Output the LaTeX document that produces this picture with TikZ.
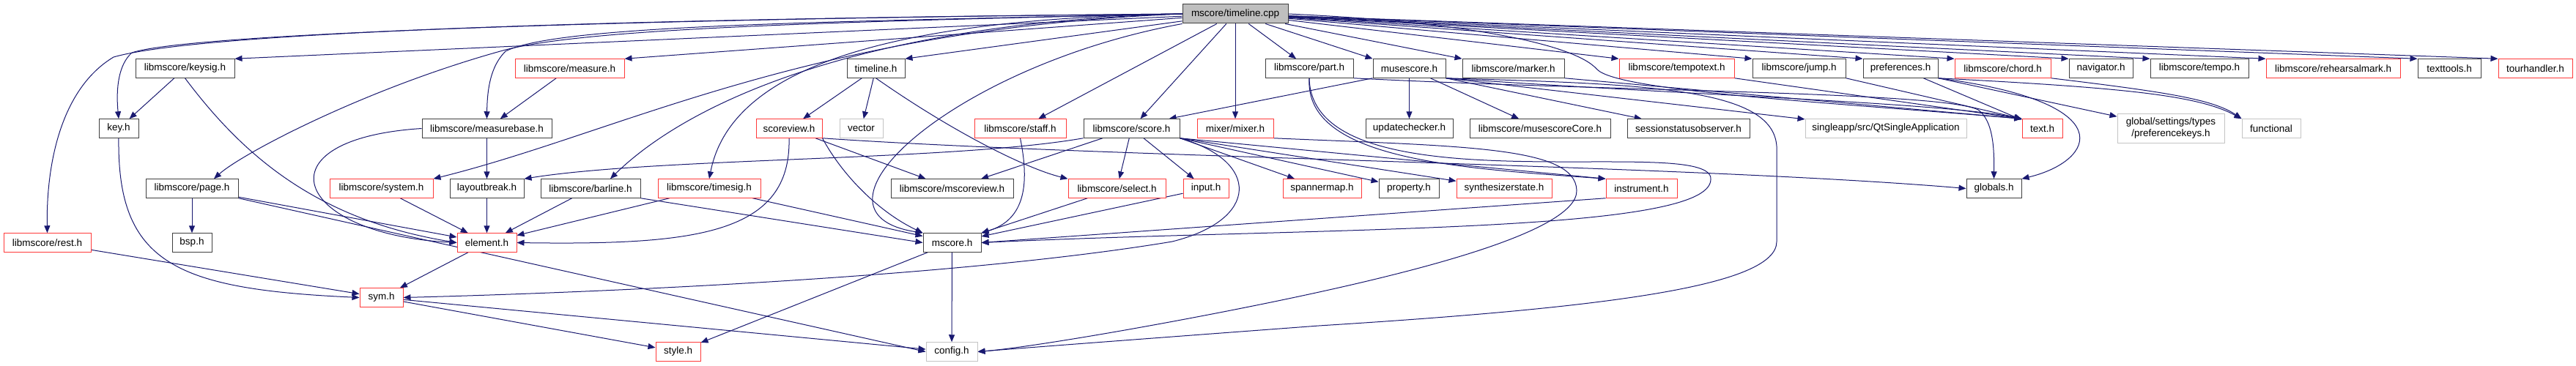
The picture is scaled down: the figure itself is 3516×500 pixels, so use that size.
\documentclass[tikz,border=0pt]{standalone}
\usepackage{fontspec}
\setmainfont{Liberation Sans}
\usepackage{tikz}
\usetikzlibrary{arrows.meta, backgrounds}

\definecolor{edgeblue}{HTML}{191970}
\definecolor{boxdark}{HTML}{404040}
\definecolor{boxred}{HTML}{FF3A3A}
\definecolor{boxlight}{HTML}{C4C4C4}
\definecolor{rootfill}{HTML}{BFBFBF}

\begin{document}
\begin{tikzpicture}[
        x=1pt, y=-1pt,
        box/.style={rectangle, draw=boxdark, fill=white, line width=1pt, minimum height=25.5pt, inner sep=0pt, align=center, font=\fontsize{13.5}{16}\selectfont},
        redbox/.style={box, draw=boxred},
        extbox/.style={box, draw=boxlight},
        rootbox/.style={box, fill=rootfill},
        arrow/.style={draw=edgeblue, line width=1pt, -{Triangle[length=10pt,width=8pt]}}
        ]

        \useasboundingbox (0,0) rectangle (3516,500);

        % Nodes
        \node (root) [rootbox, minimum width=144pt, minimum height=26pt] at (1686,19) {mscore/timeline.cpp};

        \node (keysig) [box, minimum width=135pt] at (252.5,93.5) {libmscore/keysig.h};
        \node (measure) [redbox, minimum width=149pt] at (777.5,93.5) {libmscore/measure.h};
        \node (timeline) [box, minimum width=79pt] at (1195.5,93.5) {timeline.h};
        \node (part) [box, minimum width=120pt] at (1787,93.5) {libmscore/part.h};
        \node (musescore) [box, minimum width=99pt] at (1923.5,93.5) {musescore.h};
        \node (marker) [box, minimum width=139pt] at (2065.5,93.5) {libmscore/marker.h};
        \node (tempotext) [redbox, minimum width=157pt] at (2288.5,93.5) {libmscore/tempotext.h};
        \node (jump) [box, minimum width=127pt] at (2455.5,93.5) {libmscore/jump.h};
        \node (preferences) [box, minimum width=102pt] at (2594,93.5) {preferences.h};
        \node (chord) [redbox, minimum width=131pt] at (2733.5,93.5) {libmscore/chord.h};
        \node (navigator) [box, minimum width=87pt] at (2867.5,93.5) {navigator.h};
        \node (tempo) [box, minimum width=134pt] at (3002,93.5) {libmscore/tempo.h};
        \node (rehearsalmark) [redbox, minimum width=183pt] at (3184.5,93.5) {libmscore/rehearsalmark.h};
        \node (texttools) [box, minimum width=86pt] at (3343,93.5) {texttools.h};
        \node (tourhandler) [redbox, minimum width=101pt] at (3460.5,93.5) {tourhandler.h};

        \node (key) [box, minimum width=54pt] at (162,175.5) {key.h};
        \node (measurebase) [box, minimum width=177pt] at (664.5,175.5) {libmscore/measurebase.h};
        \node (scoreview) [redbox, minimum width=90pt] at (1077,175.5) {scoreview.h};
        \node (vector) [extbox, minimum width=59pt] at (1175.5,175.5) {vector};
        \node (staff) [redbox, minimum width=125pt] at (1392.5,175.5) {libmscore/staff.h};
        \node (score) [box, minimum width=131pt] at (1544.5,175.5) {libmscore/score.h};
        \node (mixer) [redbox, minimum width=104pt] at (1686,175.5) {mixer/mixer.h};
        \node (updatechecker) [box, minimum width=119pt] at (1923.5,175.5) {updatechecker.h};
        \node (musescorecore) [box, minimum width=192pt] at (2102,175.5) {libmscore/musescoreCore.h};
        \node (sessionobs) [box, minimum width=167pt] at (2304.5,175.5) {sessionstatusobserver.h};
        \node (singleapp) [extbox, minimum width=220pt] at (2574,175.5) {singleapp/src/QtSingleApplication};
        \node (texth) [redbox, minimum width=55pt] at (2787.5,175.5) {text.h};
        \node (prefkeys) [extbox, minimum width=146pt, minimum height=40pt] at (2963,175) {global/settings/types\\/preferencekeys.h};
        \node (functional) [extbox, minimum width=80pt] at (3100,175.5) {functional};

        \node (page) [box, minimum width=126pt] at (262,257.5) {libmscore/page.h};
        \node (system) [redbox, minimum width=141pt] at (520.5,257.5) {libmscore/system.h};
        \node (layoutbreak) [box, minimum width=101pt] at (664.5,257.5) {layoutbreak.h};
        \node (barline) [box, minimum width=136pt] at (806,257.5) {libmscore/barline.h};
        \node (timesig) [redbox, minimum width=140pt] at (968,257.5) {libmscore/timesig.h};
        \node (mscoreview) [box, minimum width=167pt] at (1299.5,257.5) {libmscore/mscoreview.h};
        \node (select) [redbox, minimum width=133pt] at (1524.5,257.5) {libmscore/select.h};
        \node (input) [redbox, minimum width=62pt] at (1646,257.5) {input.h};
        \node (spannermap) [redbox, minimum width=107pt] at (1804.5,257.5) {spannermap.h};
        \node (property) [box, minimum width=82pt] at (1923,257.5) {property.h};
        \node (synthstate) [redbox, minimum width=130pt] at (2053,257.5) {synthesizerstate.h};
        \node (instrument) [redbox, minimum width=97pt] at (2240.5,257.5) {instrument.h};
        \node (globals) [box, minimum width=75pt] at (2721.5,257.5) {globals.h};

        \node (rest) [redbox, minimum width=119pt] at (64.5,331.5) {libmscore/rest.h};
        \node (bsp) [box, minimum width=54pt] at (262,331.5) {bsp.h};
        \node (element) [redbox, minimum width=81pt] at (664.5,331.5) {element.h};
        \node (mscore) [box, minimum width=79pt] at (1299.5,331.5) {mscore.h};

        \node (sym) [redbox, minimum width=59pt] at (520.5,406.5) {sym.h};
        \node (styleh) [redbox, minimum width=61pt] at (925.5,480.5) {style.h};
        \node (config) [extbox, minimum width=70pt] at (1299,480.5) {config.h};

        \begin{scope}[on background layer]
            \fill [white] (0,0) rectangle (3516,500);

            % Arrows from the source file
            \draw [arrow] (root) -- (keysig.north east);
            \draw [arrow] (root) -- (measure.north east);
            \draw [arrow] (root) -- (timeline.north east);
            \draw [arrow] (root.west) .. controls (900,25) and (260,45) .. (180,72) .. controls (162,88) and (158,120) .. (key.north);
            \draw [arrow] (root.west) .. controls (900,25) and (280,42) .. (155,78) .. controls (85,120) and (63,220) .. (rest.north);
            \draw [arrow] (root.west) .. controls (1100,30) and (800,40) .. (690,68) .. controls (500,120) and (330,210) .. ([xshift=30pt]page.north);
            \draw [arrow] (root.west) .. controls (1100,30) and (760,35) .. (690,70) .. controls (670,90) and (665,120) .. (measurebase.north);
            \draw [arrow] (root.west) .. controls (1100,40) and (850,180) .. (system.north east);
            \draw [arrow] (root.west) .. controls (1200,30) and (950,130) .. ([xshift=27pt]barline.north);
            \draw [arrow] (root.west) .. controls (1250,25) and (1000,80) .. (timesig.north);
            \draw [arrow] (root) -- (staff);
            \draw [arrow] (root) -- (score);
            \draw [arrow] (root) -- (mixer);
            \draw [arrow] (root.south west) .. controls (1300,90) and (1080,290) .. (mscore.north west);
            \draw [arrow] (root) -- (part);
            \draw [arrow] (root) -- (musescore.north west);
            \draw [arrow] (root) -- (marker.north west);
            \draw [arrow] (root) -- (tempotext.north west);
            \draw [arrow] (root) -- (jump.north west);
            \draw [arrow] (root) -- (preferences.north west);
            \draw [arrow] (root) -- (chord.north west);
            \draw [arrow] (root) -- (navigator.north west);
            \draw [arrow] (root) -- (tempo.north west);
            \draw [arrow] (root) -- (rehearsalmark.north west);
            \draw [arrow] (root) -- (texttools.north west);
            \draw [arrow] (root) -- (tourhandler.north west);
            \draw [arrow] (root.east) .. controls (2000,30) and (2150,60) .. (2180,95) .. controls (2210,125) and (2500,140) .. (texth.north west);

            % timeline.h and scoreview.h
            \draw [arrow] (timeline) -- (scoreview);
            \draw [arrow] (timeline) -- (vector);
            \draw [arrow] (timeline.south) .. controls (1300,180) and (1400,230) .. (select.north west);
            \draw [arrow] (scoreview) -- (mscoreview);
            \draw [arrow] (scoreview.south) .. controls (1080,320) and (950,335) .. (element.east);
            \draw [arrow] (scoreview.south east) .. controls (1150,240) and (1200,290) .. (mscore.north west);
            \draw [arrow] (scoreview.south east) .. controls (1500,215) and (2300,225) .. (globals.west);

            % left part
            \draw [arrow] (keysig) -- (key);
            \draw [arrow] (keysig.south) .. controls (330,210) and (430,300) .. (element.west);
            \draw [arrow] (key.south) .. controls (160,360) and (240,395) .. (sym.west);
            \draw [arrow] (rest) -- (sym);
            \draw [arrow] (measure) -- (measurebase);
            \draw [arrow] (measurebase) -- (layoutbreak);
            \draw [arrow] (measurebase.west) .. controls (350,190) and (400,320) .. (element.west);
            \draw [arrow] (layoutbreak) -- (element);
            \draw [arrow] (page) -- (bsp);
            \draw [arrow] (page) -- (element);
            \draw [arrow] (page.south east) -- (config.west);
            \draw [arrow] (system) -- (element);
            \draw [arrow] (barline) -- (element);
            \draw [arrow] (barline.south east) -- (mscore.west);
            \draw [arrow] (timesig) -- (element);
            \draw [arrow] (timesig) -- (mscore);
            \draw [arrow] (element) -- (sym);
            \draw [arrow] (sym) -- (styleh);
            \draw [arrow] (sym) -- (config);
            \draw [arrow] (mscore) -- (config);
            \draw [arrow] (mscore) -- (styleh);
            \draw [arrow] (staff.south) .. controls (1405,250) and (1400,300) .. (mscore.north east);

            % score.h
            \draw [arrow] (score.south west) .. controls (1300,220) and (900,215) .. (layoutbreak.north east);
            \draw [arrow] (score) -- (mscoreview);
            \draw [arrow] (score) -- (select);
            \draw [arrow] (score) -- (input);
            \draw [arrow] (score.south east) -- (spannermap);
            \draw [arrow] (score.south east) -- (property);
            \draw [arrow] (score.south east) -- (synthstate);
            \draw [arrow] (score.south east) -- (instrument.north west);
            \draw [arrow] (score.south east) .. controls (1720,220) and (1720,300) .. (1600,330) .. controls (1300,380) and (800,400) .. (sym.east);
            \draw [arrow] (select) -- (mscore);
            \draw [arrow] (input) -- (mscore);
            \draw [arrow] (instrument.south west) -- (mscore.east);

            % part.h and mixer.h
            \draw [arrow] (part.south) .. controls (1780,220) and (2000,230) .. (instrument.north west);
            \draw [arrow] (part.south) .. controls (1790,290) and (2340,180) .. (2335,245) .. controls (2335,320) and (1800,310) .. (mscore.east);
            \draw [arrow] (part.south east) .. controls (2200,125) and (2650,125) .. (2700,150) .. controls (2720,165) and (2722,200) .. (globals.north);
            \draw [arrow] (mixer.south east) .. controls (2000,200) and (2150,200) .. (2152,260) .. controls (2154,320) and (1900,380) .. (1700,420) .. controls (1550,450) and (1400,475) .. (config.east);

            % musescore.h
            \draw [arrow] (musescore.south west) -- ([xshift=-15pt]score.north east);
            \draw [arrow] (musescore) -- (updatechecker);
            \draw [arrow] (musescore) -- (musescorecore);
            \draw [arrow] (musescore.south east) -- (sessionobs);
            \draw [arrow] (musescore.south east) -- (singleapp);
            \draw [arrow] (musescore.south east) .. controls (2300,130) and (2650,140) .. (texth.north west);
            \draw [arrow] (musescore.south east) .. controls (2250,115) and (2420,120) .. (2425,200) -- (2425,330) .. controls (2425,390) and (2200,420) .. (1800,445) .. controls (1600,460) and (1400,475) .. (config.east);

            % right part
            \draw [arrow] (marker.south east) -- (texth.north west);
            \draw [arrow] (tempotext.south east) -- (texth.north west);
            \draw [arrow] (jump.south east) -- (texth.north west);
            \draw [arrow] (preferences) -- (texth);
            \draw [arrow] (preferences.south east) .. controls (2900,140) and (2860,220) .. (globals.north east);
            \draw [arrow] (preferences.south east) -- (prefkeys);
            \draw [arrow] (preferences.south east) .. controls (2900,120) and (3000,130) .. (functional.north west);
            \draw [arrow] (chord.south east) .. controls (2950,125) and (3020,135) .. (functional.north west);
        \end{scope}

    \end{tikzpicture}
\end{document}
